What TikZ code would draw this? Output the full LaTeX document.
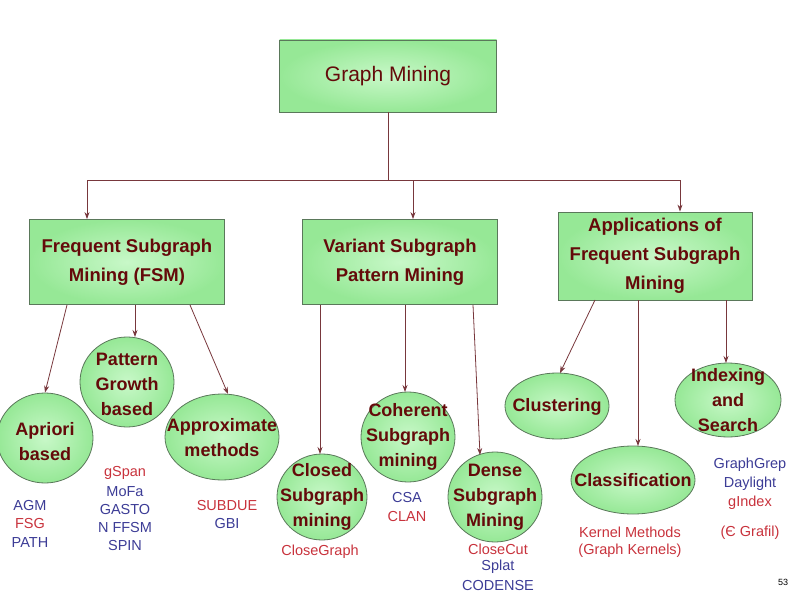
\documentclass[tikz,border=0pt]{standalone}
\usepackage{fontspec}
\setmainfont{Liberation Sans}
\usetikzlibrary{shapes.geometric,arrows.meta}
\definecolor{gfill}{RGB}{150,232,150}
\definecolor{gin}{RGB}{200,248,200}
\definecolor{gline}{RGB}{90,120,90}
\definecolor{tred}{RGB}{100,10,10}
\definecolor{arr}{RGB}{120,55,60}
\definecolor{lblue}{RGB}{60,60,150}
\definecolor{lred}{RGB}{200,50,60}
\begin{document}
\begin{tikzpicture}[x=1pt,y=-1pt,
 box/.style={draw=gline,line width=0.8pt,inner color=gin,outer color=gfill,text=tred,font=\bfseries\fontsize{18.5}{29}\selectfont,align=center,inner sep=0pt},
 ell/.style={ellipse,draw=gline,line width=0.8pt,inner color=gin,outer color=gfill,inner sep=0pt},
 et/.style={text=tred,font=\bfseries\fontsize{18}{25}\selectfont,align=center,inner sep=0pt},
 ar/.style={draw=arr,line width=0.8pt,-{Stealth[length=7pt,width=5pt]}},
 lb/.style={font=\fontsize{14.5}{18}\selectfont,text=lblue,inner sep=0pt},
 lr/.style={lb,text=lred}]
\useasboundingbox (0,0) rectangle (800,599);
\node[box,minimum width=217,minimum height=72,font=\fontsize{21}{25}\selectfont] (gm) at (388,76) {Graph Mining};
\node[box,minimum width=195,minimum height=85] (fsm) at (127,262) {Frequent Subgraph\\Mining (FSM)};
\node[box,minimum width=195,minimum height=85] (var) at (400,262) {Variant Subgraph\\Pattern Mining};
\node[box,minimum width=194,minimum height=88] (app) at (655,256) {Applications of\\Frequent Subgraph\\Mining};
\coordinate (j) at (388,180);
\coordinate (jl) at (87,180);
\coordinate (jm) at (413,180);
\coordinate (jr) at (680,180);
\draw[draw=arr,line width=0.8pt] (gm.south) -- (j) (jl) -- (jr);
\draw[ar] (jl) -- (jl|-fsm.north);
\draw[ar] (jm) -- (jm|-var.north);
\draw[ar] (jr) -- (jr|-app.north);

\node[ell,minimum width=96,minimum height=90] (apr) at (45,438) {};
\node[et] (aprt) at (45,442) {Apriori\\based};
\node[ell,minimum width=94,minimum height=90] (pg) at (127,382) {};
\node[et] (pgt) at (127,384) {Pattern\\Growth\\based};
\node[ell,minimum width=114,minimum height=86] (apx) at (222,437) {};
\node[et] (apxt) at (222,438) {Approximate\\methods};
\node[ell,minimum width=90,minimum height=86] (cl) at (322,497) {};
\node[et] (clt) at (322,497) {Closed\\Subgraph\\mining};
\node[ell,minimum width=94,minimum height=90] (co) at (408,437) {};
\node[et] (cot) at (408,437) {Coherent\\Subgraph\\mining};
\node[ell,minimum width=94,minimum height=90] (de) at (495,497) {};
\node[et] (det) at (495,497) {Dense\\Subgraph\\Mining};
\node[ell,minimum width=104,minimum height=66] (clu) at (557,406) {};
\node[et] (clut) at (557,407) {Clustering};
\node[ell,minimum width=124,minimum height=68] (cla) at (633,480) {};
\node[et] (clat) at (633,480) {Classification};
\node[ell,minimum width=106,minimum height=74] (ix) at (728,400) {};
\node[et] (ixt) at (728,400) {Indexing\\and\\Search};

\draw[ar] (67,305) -- (apr.north);
\draw[ar] (135,305) -- (135,337);
\draw[ar] (190,305) -- (228,394);
\draw[ar] (320,305) -- (320,454);
\draw[ar] (405,305) -- (405,392);
\draw[ar] (473,305) -- (480,455);
\draw[ar] (595,300) -- (560,373);
\draw[ar] (638,300) -- (638,446);
\draw[ar] (726,300) -- (726,363);

\node[lb] (t1) at (30,506) {AGM};
\node[lr] (t2) at (30,524) {FSG};
\node[lb] (t3) at (30,543) {PATH};
\node[lr] (t4) at (125,473) {gSpan};
\node[lb] (t5) at (125,492) {MoFa};
\node[lb] (t6) at (125,510) {GASTO};
\node[lb] (t7) at (125,528) {N FFSM};
\node[lb] (t8) at (125,546) {SPIN};
\node[lr] (t9) at (227,506) {SUBDUE};
\node[lb] (t10) at (227,524) {GBI};
\node[lr] (t11) at (320,552) {CloseGraph};
\node[lb] (t12) at (407,498) {CSA};
\node[lr] (t13) at (407,517) {CLAN};
\node[lr] (t14) at (498,549) {CloseCut};
\node[lb] (t15) at (498,567) {Splat};
\node[lb] (t16) at (498,586) {CODENSE};
\node[lr] (t17) at (630,532) {Kernel Methods};
\node[lr] (t18) at (630,551) {(Graph Kernels)};
\node[lb] (t19) at (750,465) {GraphGrep};
\node[lb] (t20) at (750,484) {Daylight};
\node[lr] (t21) at (750,503) {gIndex};
\node[lr] (t22) at (750,533) {(Є Grafil)};
\node[font=\fontsize{9}{10}\selectfont,inner sep=0pt] (pn) at (783,582) {53};
\end{tikzpicture}
\end{document}
